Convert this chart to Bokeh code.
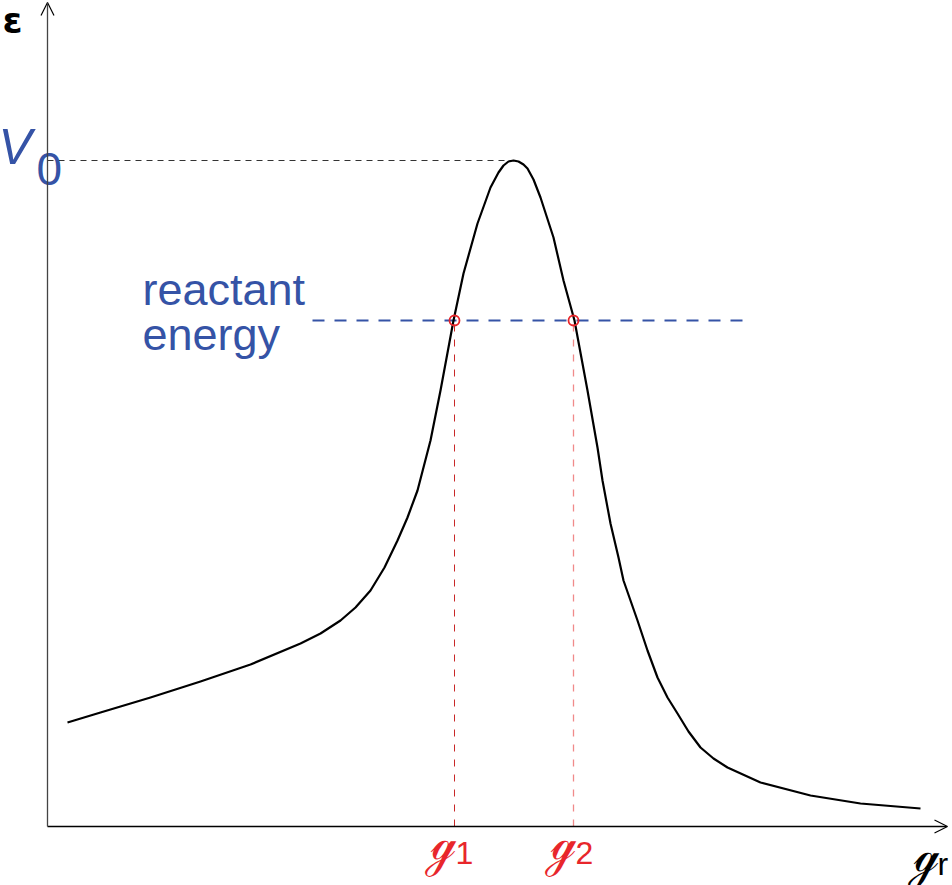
from bokeh.plotting import figure
from bokeh.models import Range1d, Arrow, OpenHead
from bokeh.core.properties import value
from bokeh.embed import file_html
from bokeh.resources import INLINE

# potential energy curve (reaction coordinate, energy)
curve_x = [0.20, 0.53, 1.03, 1.53, 2.03, 2.53, 2.73, 2.93, 3.08, 3.23, 3.37, 3.50,
           3.60, 3.70, 3.83, 3.93, 4.06, 4.16, 4.30, 4.43, 4.51, 4.56, 4.61, 4.66,
           4.71, 4.76, 4.80, 4.86, 4.93, 5.06, 5.16, 5.27, 5.40, 5.50, 5.55, 5.63,
           5.71, 5.76, 5.90, 6.00, 6.10, 6.20, 6.30, 6.41, 6.53, 6.66, 6.80, 7.13,
           7.63, 8.13, 8.73]
curve_y = [1.04, 1.14, 1.29, 1.45, 1.62, 1.83, 1.93, 2.06, 2.19, 2.36, 2.59, 2.86,
           3.09, 3.36, 3.86, 4.36, 5.06, 5.53, 6.03, 6.39, 6.54, 6.61, 6.65, 6.66,
           6.65, 6.62, 6.58, 6.47, 6.29, 5.89, 5.46, 5.06, 4.36, 3.79, 3.46, 3.03,
           2.69, 2.46, 2.06, 1.76, 1.49, 1.29, 1.13, 0.95, 0.79, 0.68, 0.59, 0.44,
           0.31, 0.23, 0.18]
V0 = 6.66
peak_x = 4.66
reactant_E = 5.06
turning_points = [4.07, 5.26]
reactant_line_x = [2.65, 7.03]

BLUE = "#3553a6"
RED = "#e8262b"

p = figure(width=952, height=885, output_backend="svg", toolbar_location=None,
           x_range=Range1d(-0.47, 9.05), y_range=Range1d(-0.59, 8.26),
           min_border=0, outline_line_color=None)
p.xaxis.visible = False
p.yaxis.visible = False
p.xgrid.visible = False
p.ygrid.visible = False

# axes with open arrow heads
p.add_layout(Arrow(end=OpenHead(size=13, line_width=1.2, line_color="black"),
                   x_start=0, y_start=0, x_end=9.0, y_end=0,
                   line_width=1.3, line_color="black"))
p.add_layout(Arrow(end=OpenHead(size=13, line_width=1.2, line_color="black"),
                   x_start=0, y_start=0, x_end=0, y_end=8.24,
                   line_width=1.3, line_color="#444444"))

# V0 dashed line
p.line([0, peak_x], [V0, V0], line_color="#333333", line_width=1, line_dash="6 5")

# vertical dashed lines at turning points
p.line([turning_points[0]] * 2, [0, reactant_E], line_color="#c82828", line_width=1, line_dash="7 8")
p.line([turning_points[1]] * 2, [0, reactant_E], line_color="#f08a8a", line_width=1.3, line_dash="7 8")

# reactant energy dashed line
p.line(reactant_line_x, [reactant_E, reactant_E], line_color=BLUE, line_width=2, line_dash="12 10")

# curve
p.line(curve_x, curve_y, line_color="black", line_width=2.2, line_join="round")

# turning point circles
p.scatter(turning_points, [reactant_E] * 2, marker="circle", size=10,
          fill_color=None, line_color=RED, line_width=1.8)

# texts
def txt(x, y, s, size, color, font="Liberation Sans", style="normal", anchor="left", baseline="alphabetic"):
    p.text(x=[x], y=[y], text=[s], text_font=value(font), text_font_size=f"{size}px",
           text_color=color, text_font_style=style, text_align=anchor, text_baseline=baseline)

txt(-0.45, 8.06, "ε", 36, "black", font="DejaVu Sans", style="bold")
txt(-0.49, 6.80, "V", 50, BLUE, style="italic")
txt(-0.11, 6.58, "0", 46, BLUE)
txt(0.95, 5.37, "reactant", 45, BLUE)
txt(0.95, 4.92, "energy", 45, BLUE)

txt(3.81, -0.16, "ℊ", 46, RED, font="DejaVu Sans")
txt(4.08, -0.26, "1", 32, RED)
txt(5.01, -0.16, "ℊ", 46, RED, font="DejaVu Sans")
txt(5.28, -0.26, "2", 32, RED)
txt(8.64, -0.28, "ℊ", 46, "black", font="DejaVu Sans")
txt(8.90, -0.37, "r", 32, "black")

open("out.html", "w").write(file_html(p, INLINE))
